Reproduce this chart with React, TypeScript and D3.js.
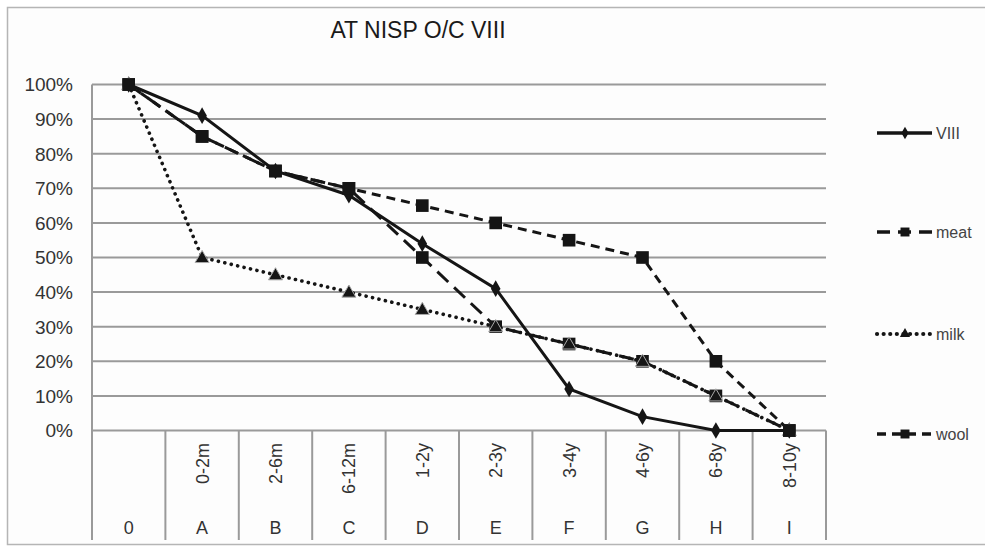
import React, { useEffect, useRef } from 'react';
import * as d3 from 'd3';

// 카테고리 / 데이터
const categories = ['0', 'A', 'B', 'C', 'D', 'E', 'F', 'G', 'H', 'I'];
const ageRanges = ['', '0-2m', '2-6m', '6-12m', '1-2y', '2-3y', '3-4y', '4-6y', '6-8y', '8-10y'];
const viiiValues = [100, 91, 75, 68, 54, 41, 12, 4, 0, 0];
const meatValues = [100, 85, 75, 70, 50, 30, 25, 20, 10, 0];
const milkValues = [100, 50, 45, 40, 35, 30, 25, 20, 10, 0];
const woolValues = [100, 85, 75, 70, 65, 60, 55, 50, 20, 0];
const yTicks = [0, 10, 20, 30, 40, 50, 60, 70, 80, 90, 100];
const title = 'AT NISP O/C VIII';

const series = [
    { name: 'VIII', values: viiiValues, dash: null, width: 3, marker: 'diamond', cap: 'butt' },
    { name: 'meat', values: meatValues, dash: '15 8', width: 3, marker: 'square', cap: 'butt' },
    { name: 'milk', values: milkValues, dash: '0.1 6.5', width: 3.6, marker: 'triangle', cap: 'round' },
    { name: 'wool', values: woolValues, dash: '9 6', width: 3, marker: 'square', cap: 'butt' },
];

const FONT = '"Liberation Sans", Arial, sans-serif';
const INK = '#151515';

const App = () => {
    const svgRef = useRef(null);

    useEffect(() => {
        const svg = d3.select(svgRef.current);
        svg.selectAll('*').remove();

        const left = 92, right = 826, top = 84.5, bottom = 430.5, axisBottom = 540;

        // 바깥 테두리
        svg.append('rect')
            .attr('x', 7.5).attr('y', 7.5)
            .attr('width', 990).attr('height', 537)
            .attr('fill', '#fdfdfd').attr('stroke', '#b5b5b5').attr('stroke-width', 1.5);

        svg.append('text')
            .attr('x', 418).attr('y', 38)
            .attr('text-anchor', 'middle')
            .attr('font-family', FONT).attr('font-size', 23)
            .attr('fill', '#1a1a1a')
            .text(title);

        const xBand = d3.scaleBand().domain(categories).range([left, right]);
        const x = (i: number) => (xBand(categories[i]) as number) + xBand.bandwidth() / 2;
        const y = d3.scaleLinear().domain([0, 100]).range([bottom, top]);

        // 가로 그리드
        svg.append('g').selectAll('line').data(yTicks).join('line')
            .attr('x1', left).attr('x2', right)
            .attr('y1', d => y(d)).attr('y2', d => y(d))
            .attr('stroke', '#9a9a9a').attr('stroke-width', 2);

        svg.append('g').selectAll('text').data(yTicks).join('text')
            .attr('x', 73).attr('y', d => y(d))
            .attr('dy', '0.36em')
            .attr('text-anchor', 'end')
            .attr('font-family', FONT).attr('font-size', 19)
            .attr('fill', '#333')
            .text(d => `${d}%`);

        // 세로 축선 + 카테고리 구분선
        svg.append('line')
            .attr('x1', left).attr('x2', left).attr('y1', top).attr('y2', axisBottom)
            .attr('stroke', '#9a9a9a').attr('stroke-width', 2);
        svg.append('g').selectAll('line').data(categories).join('line')
            .attr('x1', d => (xBand(d) as number) + xBand.bandwidth())
            .attr('x2', d => (xBand(d) as number) + xBand.bandwidth())
            .attr('y1', bottom).attr('y2', axisBottom)
            .attr('stroke', '#9a9a9a').attr('stroke-width', 2);

        // 나이 구간 (세로 글자)
        svg.append('g').selectAll('text').data(ageRanges).join('text')
            .attr('transform', (d, i) => `translate(${x(i)},443) rotate(-90)`)
            .attr('text-anchor', 'end')
            .attr('dy', '0.36em')
            .attr('font-family', FONT).attr('font-size', 18)
            .attr('fill', '#333')
            .text(d => d);

        svg.append('g').selectAll('text').data(categories).join('text')
            .attr('x', (d, i) => x(i)).attr('y', 528)
            .attr('dy', '0.36em')
            .attr('text-anchor', 'middle')
            .attr('font-family', FONT).attr('font-size', 18)
            .attr('fill', '#333')
            .text(d => d);

        const line = d3.line<number>()
            .x((d, i) => x(i))
            .y(d => y(d));

        const symbolFor = (m: string) =>
            m === 'diamond' ? d3.symbol(d3.symbolDiamond, 80)
                : m === 'square' ? d3.symbol(d3.symbolSquare, 160)
                    : d3.symbol(d3.symbolTriangle, 85);

        // 시리즈 순서대로 그립니다
        series.forEach(s => {
            svg.append('path')
                .datum(s.values)
                .attr('fill', 'none')
                .attr('stroke', INK)
                .attr('stroke-width', s.width)
                .attr('stroke-dasharray', s.dash)
                .attr('stroke-linecap', s.cap)
                .attr('d', line);

            svg.append('g').selectAll('path').data(s.values).join('path')
                .attr('transform', (d, i) => `translate(${x(i)},${y(d) + (s.marker === 'triangle' ? 1 : 0)})`)
                .attr('d', symbolFor(s.marker))
                .attr('fill', INK)
                .attr('stroke', s.marker === 'triangle' ? '#aaa' : 'none')
                .attr('stroke-width', 1);
        });

        // 범례
        const legendY = [133, 232, 334, 434];
        series.forEach((s, k) => {
            const g = svg.append('g').attr('transform', `translate(0,${legendY[k]})`);
            g.append('line')
                .attr('x1', 877).attr('x2', 932)
                .attr('stroke', INK)
                .attr('stroke-width', s.width + 0.5)
                .attr('stroke-dasharray', s.name === 'meat' ? '13 8' : s.dash)
                .attr('stroke-linecap', s.cap);
            g.append('path')
                .attr('transform', 'translate(905,0)')
                .attr('d', symbolFor(s.marker).size(s.marker === 'square' ? 80 : 45))
                .attr('fill', INK);
            g.append('text')
                .attr('x', 936)
                .attr('dy', '0.36em')
                .attr('font-family', FONT).attr('font-size', 16)
                .attr('fill', '#444')
                .text(s.name);
        });
    }, []);

    return (
        <svg ref={svgRef} width={985} height={547}
             style={{ position: 'absolute', left: 0, top: 0, background: '#fff' }} />
    );
};

export default App;
